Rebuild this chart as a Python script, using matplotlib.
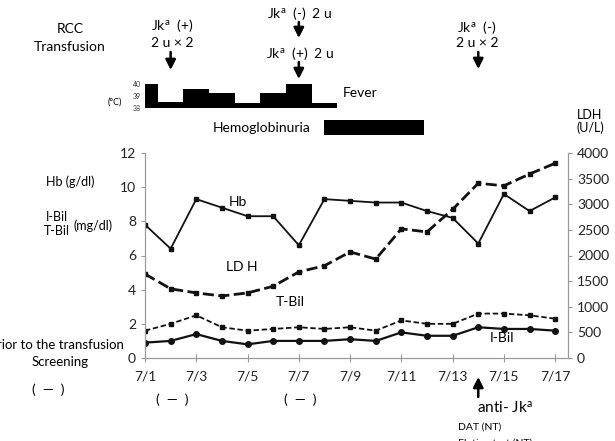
import matplotlib.pyplot as plt

plt.rcParams['font.family'] = ['Lato', 'DejaVu Sans']
plt.rcParams['mathtext.default'] = 'regular'

# data
days = ['7/1', '7/2', '7/3', '7/4', '7/5', '7/6', '7/7', '7/8', '7/9',
        '7/10', '7/11', '7/12', '7/13', '7/14', '7/15', '7/16', '7/17']
hb = [7.8, 6.4, 9.3, 8.8, 8.3, 8.3, 6.6, 9.3, 9.2, 9.1, 9.1, 8.6, 8.2, 6.7, 9.6, 8.6, 9.4]
ldh = [1640, 1350, 1270, 1210, 1270, 1400, 1680, 1800, 2070, 1930, 2520, 2460, 2900,
       3410, 3360, 3590, 3800]
tbil = [1.6, 2.0, 2.5, 1.8, 1.6, 1.7, 1.8, 1.7, 1.8, 1.6, 2.2, 2.0, 2.0, 2.6, 2.6, 2.5, 2.3]
ibil = [0.9, 1.0, 1.4, 1.0, 0.8, 1.0, 1.0, 1.0, 1.1, 1.0, 1.5, 1.3, 1.3, 1.8, 1.7, 1.7, 1.6]
fever = [40, 38.5, 39.6, 39.25, 38.4, 39.25, 40, 38.4]
hemo_start, hemo_end = 7, 10.9

W, H = 615, 441
x = list(range(len(days)))

fig = plt.figure(figsize=(W / 100, H / 100), dpi=100)


def px(a, b):
    return a / W, 1 - b / H


ax = fig.add_axes([145 / W, 83 / H, 423 / W, 205 / H])
ax2 = ax.twinx()
c = '#111111'
ax.plot(x, hb, '-s', color=c, lw=1.3, ms=3)
ax.plot(x, tbil, '--s', color=c, lw=1.3, ms=3.5, dashes=(3, 1.5))
ax.plot(x, ibil, '-o', color=c, lw=1.6, ms=4)
ax2.plot(x, ldh, '--s', color=c, lw=2, ms=3.5, dashes=(4, 1.6))

ax.set_xlim(0, 16.5)
ax.set_ylim(0, 12)
ax2.set_ylim(0, 4000)
ax.set_yticks(range(0, 13, 2))
ax2.set_yticks(range(0, 4001, 500))
ax.set_xticks(x[::2])
ax.set_xticklabels(days[::2])
for a in (ax, ax2):
    a.spines['top'].set_visible(False)
    for s in a.spines.values():
        s.set_color('#999999')
    a.tick_params(labelsize=10, colors='#999999', labelcolor='#222222', length=3)
ax.tick_params(axis='x', direction='inout', length=6, pad=6)

# fever strip
axf = fig.add_axes([145 / W, (H - 108) / H, 423 / W, 24 / H])
axf.bar(range(len(fever)), [f - 38 for f in fever], bottom=38, width=1.0, color='black')
axf.set_xlim(0, 16.5)
axf.set_ylim(38, 40)
axf.set_yticks([38, 39, 40])
axf.tick_params(labelsize=5, length=0, pad=3, labelcolor='#333333')
axf.set_xticks([])
for s in axf.spines.values():
    s.set_visible(False)
fig.text(*px(115, 102), '(\u00b0C)', fontsize=6.5, ha='center', va='center')
fig.text(*px(343, 93), 'Fever', fontsize=10, va='center')

# hemoglobinuria bar
axh = fig.add_axes([145 / W, (H - 135) / H, 423 / W, 15 / H])
axh.barh(0.5, hemo_end - hemo_start, left=hemo_start, height=1, color='black')
axh.set_xlim(0, 16.5)
axh.set_ylim(0, 1)
axh.axis('off')
fig.text(*px(311, 128), 'Hemoglobinuria', fontsize=10, ha='right', va='center')

# transfusion annotations
fig.text(*px(70, 29), 'RCC', fontsize=10, ha='center', va='center')
fig.text(*px(70, 47), 'Transfusion', fontsize=10, ha='center', va='center')


def arrow(day, y0, y1):
    ax.annotate('', xy=(day, 1 - y1 / H), xytext=(day, 1 - y0 / H),
                xycoords=('data', 'figure fraction'), textcoords=('data', 'figure fraction'),
                arrowprops=dict(arrowstyle='-|>', color='black', lw=1.8, mutation_scale=15,
                                shrinkA=0, shrinkB=0),
                annotation_clip=False)


fig.text(*px(172, 25), 'Jk$^{a}$  (+)', fontsize=10, ha='center', va='center')
fig.text(*px(172, 43), '2 u \u00d7 2', fontsize=10, ha='center', va='center')
arrow(1, 52, 70)
fig.text(*px(300, 13), 'Jk$^{a}$  (-)  2 u', fontsize=10, ha='center', va='center')
arrow(6, 22, 38)
fig.text(*px(300, 53), 'Jk$^{a}$  (+)  2 u', fontsize=10, ha='center', va='center')
arrow(6, 62, 79)
fig.text(*px(477, 28), 'Jk$^{a}$  (-)', fontsize=10, ha='center', va='center')
fig.text(*px(477, 43), '2 u \u00d7 2', fontsize=10, ha='center', va='center')
arrow(13, 52, 69)

# axis labels
fig.text(*px(590, 115), 'LDH', fontsize=9, ha='center', va='center')
fig.text(*px(590, 128), '(U/L)', fontsize=9, ha='center', va='center')
fig.text(*px(70, 182), 'Hb (g/dl)', fontsize=9, ha='center', va='center')
fig.text(*px(57, 217), 'I-Bil', fontsize=9, ha='center', va='center')
fig.text(*px(57, 231), 'T-Bil', fontsize=9, ha='center', va='center')
fig.text(*px(93, 226), '(mg/dl)', fontsize=9, ha='center', va='center')

# series labels
fig.text(*px(238, 202), 'Hb', fontsize=10, ha='center', va='center')
fig.text(*px(242, 267), 'LD H', fontsize=10, ha='center', va='center')
fig.text(*px(290, 302), 'T-Bil', fontsize=10, ha='center', va='center')
fig.text(*px(502, 338), 'I-Bil', fontsize=10, ha='center', va='center')

# screening notes (the reference crops these at the figure edges)
fig.text(*px(124, 345), 'Prior to the transfusion', fontsize=9.5, ha='right', va='center')
fig.text(*px(60, 362), 'Screening', fontsize=9.5, ha='center', va='center')
for xx, yy in [(48, 390), (172, 400), (300, 400)]:
    fig.text(*px(xx, yy), '(  \u2014  )', fontsize=10, ha='center', va='center')

arrow(13, 397, 377)
fig.text(*px(505, 408), 'anti- Jk$^{a}$', fontsize=11, ha='center', va='center')
fig.text(*px(458, 427), 'DAT (NT)', fontsize=7.5, ha='left', va='center')
fig.text(*px(458, 443), 'Elution test (NT)', fontsize=7.5, ha='left', va='center')

fig.savefig('out.png', dpi=100)
